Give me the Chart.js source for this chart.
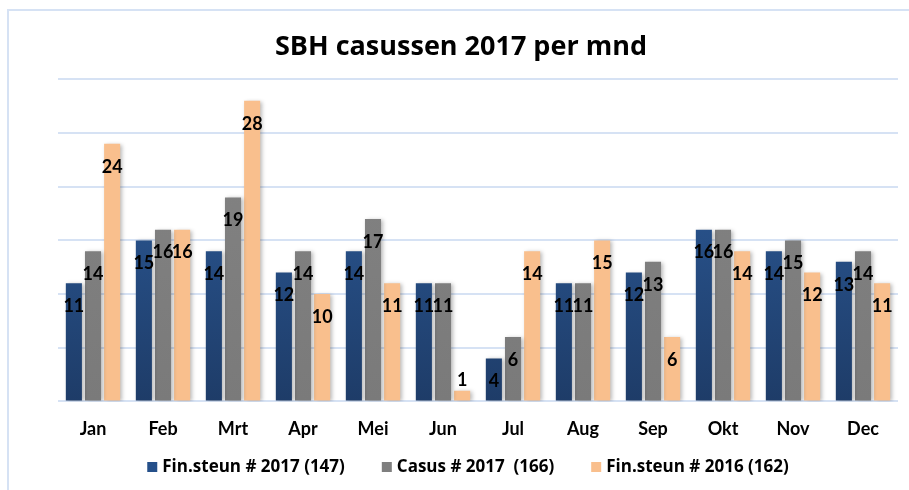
<!DOCTYPE html>
<html>
<head>
<meta charset="utf-8">
<script src="https://cdn.jsdelivr.net/npm/chart.js@4.4.1/dist/chart.umd.min.js"></script>
<style>
  html, body { margin: 0; padding: 0; background: #ffffff; }
  #wrap { position: relative; width: 909px; height: 490px; }
  #frame { position: absolute; left: 7px; top: 9px; width: 910px; height: 490px;
           border-left: 2px solid #d6e2f4; border-top: 2px solid #d6e2f4; }
  canvas { position: absolute; left: 0; top: 0; }
</style>
</head>
<body>
<div id="wrap">
  <div id="frame"></div>
  <canvas id="c" width="909" height="490"></canvas>
</div>
<script>
const months = ["Jan","Feb","Mrt","Apr","Mei","Jun","Jul","Aug","Sep","Okt","Nov","Dec"];
const finSteun2017 = [11,15,14,12,14,11,4,11,12,16,14,13];
const casus2017    = [14,16,19,14,17,11,6,11,13,16,15,14];
const finSteun2016 = [24,16,28,10,11,1,14,15,6,14,12,11];
const seriesNames = ["Fin.steun # 2017 (147)", "Casus # 2017  (166)", "Fin.steun # 2016 (162)"];
const legendSwatches = ["#25508a", "#7f7f7f", "#f9bf8d"];
const yTicks = [0,5,10,15,20,25,30];

function blueGrad(ctx) {
  const ch = ctx.chart; const a = ch.chartArea;
  if (!a) return '#2a5590';
  const g = ch.ctx.createLinearGradient(0, a.top, 0, a.bottom);
  g.addColorStop(0, '#2f61a3');
  g.addColorStop(1, '#1e3c68');
  return g;
}
function grayGrad(ctx) {
  const ch = ctx.chart; const a = ch.chartArea;
  if (!a) return '#7f7f7f';
  const g = ch.ctx.createLinearGradient(0, a.top, 0, a.bottom);
  g.addColorStop(0, '#848484');
  g.addColorStop(1, '#7a7a7a');
  return g;
}

const shadowPlugin = {
  id: 'barShadow',
  beforeDatasetsDraw(chart) {
    const c = chart.ctx; c.save();
    c.shadowColor = 'rgba(0,0,0,0.28)';
    c.shadowBlur = 4; c.shadowOffsetX = 2; c.shadowOffsetY = 1;
  },
  afterDatasetsDraw(chart) { chart.ctx.restore(); }
};

const labelPlugin = {
  id: 'barLabels',
  afterDatasetsDraw(chart) {
    const c = chart.ctx;
    c.save();
    c.shadowColor = 'transparent';
    c.font = 'bold 18px Lato';
    c.fillStyle = '#000000';
    c.textAlign = 'center';
    c.textBaseline = 'middle';
    chart.data.datasets.forEach((ds, di) => {
      const meta = chart.getDatasetMeta(di);
      meta.data.forEach((bar, i) => {
        const h = bar.base - bar.y;
        const y = h < 34 ? bar.y - 10 : bar.y + 23;
        c.fillText(String(ds.data[i]), bar.x, y);
      });
    });
    c.restore();
  }
};

const legendPlugin = {
  id: 'bottomLegend',
  afterDraw(chart) {
    const c = chart.ctx;
    c.save();
    c.font = 'bold 17px "Open Sans"';
    c.textBaseline = 'middle';
    c.textAlign = 'left';
    const box = 10, gapText = 5, gapItem = 37;
    const widths = seriesNames.map(t => c.measureText(t).width);
    const total = widths.reduce((s, w) => s + box + gapText + w, 0) + gapItem * (seriesNames.length - 1);
    let x = 468 - total / 2;
    const yc = 467;
    seriesNames.forEach((t, i) => {
      c.fillStyle = legendSwatches[i];
      c.fillRect(x, yc - box / 2, box, box);
      c.fillStyle = '#000000';
      c.fillText(t, x + box + gapText, yc);
      x += box + gapText + widths[i] + gapItem;
    });
    c.restore();
  }
};

new Chart(document.getElementById('c'), {
  type: 'bar',
  data: {
    labels: months,
    datasets: [
      { label: seriesNames[0], data: finSteun2017, backgroundColor: blueGrad, borderWidth: 0 },
      { label: seriesNames[1], data: casus2017, backgroundColor: grayGrad, borderWidth: 0 },
      { label: seriesNames[2], data: finSteun2016, backgroundColor: '#f9bf8d', borderWidth: 0 }
    ]
  },
  options: {
    responsive: false,
    animation: false,
    devicePixelRatio: 1,
    layout: { padding: { left: 24, right: 11, top: 10, bottom: 41 } },
    datasets: { bar: { categoryPercentage: 0.82, barPercentage: 0.84 } },
    plugins: {
      title: {
        display: true,
        text: 'SBH casussen 2017 per mnd',
        color: '#000000',
        font: { family: 'Open Sans', size: 27, weight: 'bold', lineHeight: 1.2 },
        padding: { top: 21, bottom: 16 }
      },
      legend: { display: false },
      tooltip: { enabled: false }
    },
    scales: {
      x: {
        grid: { display: false },
        border: { display: false },
        ticks: { color: '#000000', font: { family: 'Lato', size: 18, weight: 'bold' }, padding: 9 }
      },
      y: {
        min: 0, max: 30,
        afterBuildTicks(axis) { axis.ticks = yTicks.map(v => ({ value: v })); },
        afterFit(axis) { axis.width = 34; },
        grid: { color: '#d6e2f4', lineWidth: 2, drawTicks: false },
        border: { display: false },
        ticks: { display: false }
      }
    }
  },
  plugins: [shadowPlugin, labelPlugin, legendPlugin]
});
</script>
</body>
</html>
